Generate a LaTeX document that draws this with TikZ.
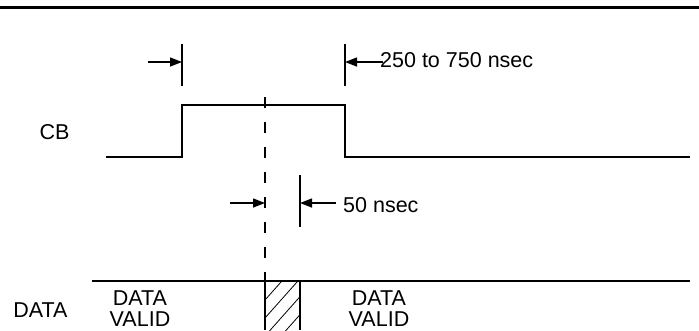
\documentclass[tikz,border=0pt]{standalone}
\usepackage{fontspec}
\setmainfont{Liberation Sans}
\usetikzlibrary{arrows.meta}
\begin{document}
\begin{tikzpicture}[x=1pt,y=-1pt,
  wave/.style={line width=1.6pt},
  thin/.style={line width=1.4pt},
  dim/.style={line width=1.4pt,-{Triangle[length=12pt,width=9pt]}},
  lbl/.style={font=\fontsize{21.5}{21}\selectfont, inner sep=0pt, align=center},
  hatch/.style={line width=0.8pt}]
\useasboundingbox (0,0) rectangle (699,330);
% top rule
\draw[line width=3pt] (0,7) -- (699,7);
% 250 to 750 dimension
\coordinate (t1a) at (182,44); \coordinate (t1b) at (182,86);
\coordinate (t2a) at (345,44); \coordinate (t2b) at (345,86);
\draw[thin] (t1a) -- (t1b);
\draw[thin] (t2a) -- (t2b);
\coordinate (a1) at (148,62); \coordinate (a1e) at (182,62);
\coordinate (a2) at (383,62); \coordinate (a2e) at (345,62);
\draw[dim] (a1) -- (a1e);
\draw[dim] (a2) -- (a2e);
\node[lbl, anchor=base west] (t250) at (380,67) {250 to 750 nsec};
% CB waveform
\node[lbl, anchor=base] (cb) at (54.5,139) {CB};
\coordinate (c0) at (106,157); \coordinate (c1) at (182,157);
\coordinate (c2) at (182,105); \coordinate (c3) at (345,105);
\coordinate (c4) at (345,157); \coordinate (c5) at (690,157);
\draw[wave] (c0) -- (c1) -- (c2) -- (c3) -- (c4) -- (c5);
% dashed reference line
\coordinate (d0) at (265,97); \coordinate (d1) at (265,281);
\draw[thin, dash pattern=on 11pt off 14pt] (d0) -- (d1);
% 50 nsec
\coordinate (v50a) at (300,175); \coordinate (v50b) at (300,227);
\draw[thin] (v50a) -- (v50b);
\coordinate (b1) at (230,203); \coordinate (b1e) at (265,203);
\coordinate (b2) at (336,203); \coordinate (b2e) at (300,203);
\draw[dim] (b1) -- (b1e);
\draw[dim] (b2) -- (b2e);
\node[lbl, anchor=base west] (t50) at (343,212) {50 nsec};
% DATA line
\coordinate (e0) at (92,281); \coordinate (e1) at (690,281);
\draw[wave] (e0) -- (e1);
\node[lbl, anchor=base] (data) at (40.5,317) {DATA};
\node[lbl] (dv1) at (140,308.5) {DATA\\VALID};
\node[lbl] (dv2) at (379,308.5) {DATA\\VALID};
% hatched region
\coordinate (h0) at (265,281); \coordinate (h1) at (300,335);
\begin{scope}
\clip (h0) rectangle (h1);
\foreach \k in {0,1,2,3,4} {
  \draw[hatch] (265,300+18*\k) -- ++(40,-45);
}
\end{scope}
\draw[thin] (265,281) -- (265,330);
\draw[thin] (300,281) -- (300,330);
\end{tikzpicture}
\end{document}
